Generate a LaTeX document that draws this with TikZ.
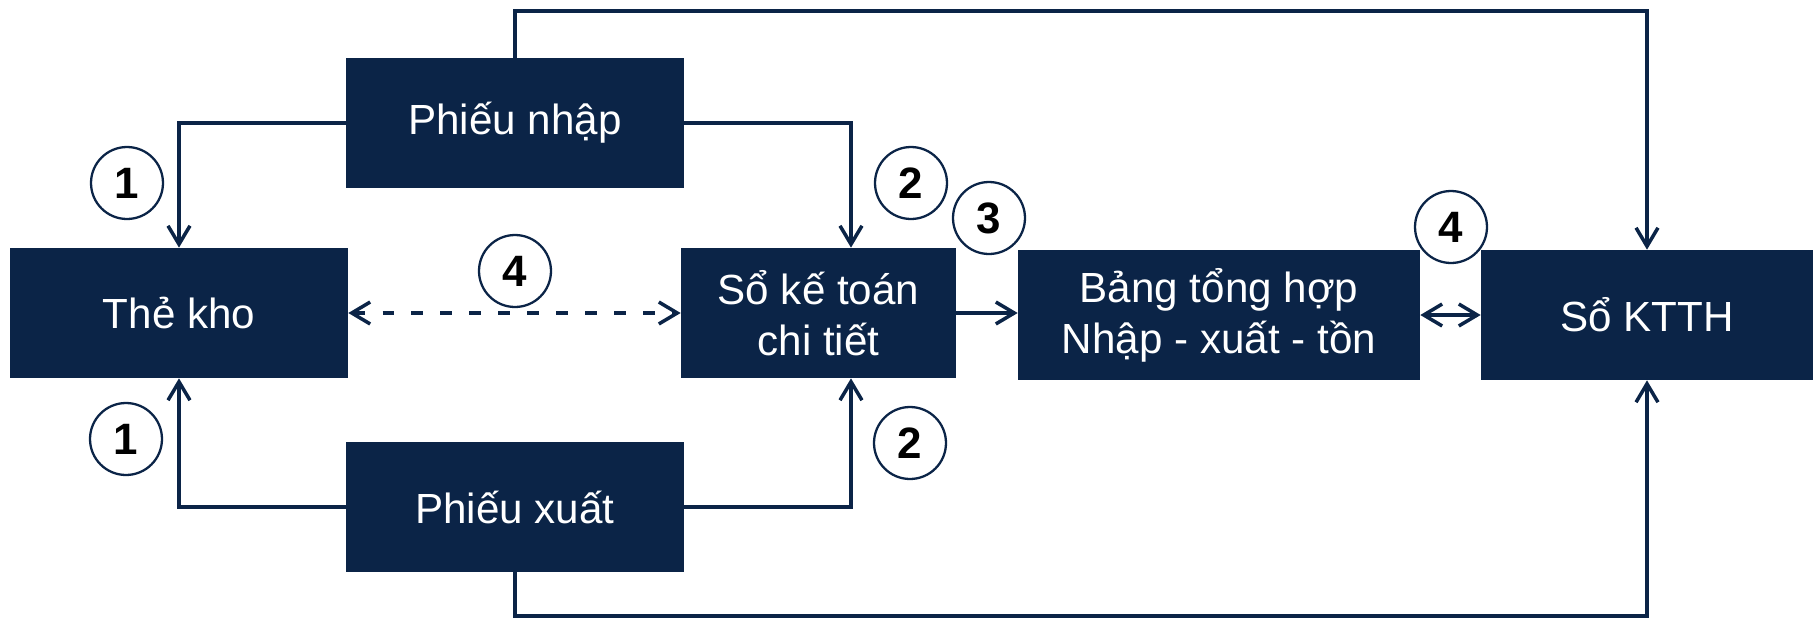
\documentclass[tikz,border=0pt]{standalone}
\usepackage{fontspec}
\setmainfont{Liberation Sans}
\usepackage{tikz}
\usetikzlibrary{arrows.meta, positioning}
\usepackage{xcolor}
\definecolor{navy}{HTML}{0B2447}

\begin{document}
\begin{tikzpicture}[
    x=0.02cm, y=-0.02cm,
    docBox/.style={rectangle, fill=navy, text=white, minimum height=2.6cm, align=center, font=\fontsize{24}{29}\selectfont, inner sep=0pt},
    numCirc/.style={circle, fill=white, draw=navy, line width=1.3pt, minimum size=1.44cm, inner sep=0pt, font=\fontsize{25}{28}\selectfont\bfseries},
    flowRel/.style={-{Straight Barb[length=10.5pt, width=12.5pt, line width=2pt]}, navy, line width=2.2pt},
    bothRel/.style={{Straight Barb[length=10.5pt, width=12.5pt, line width=2pt]}-{Straight Barb[length=10.5pt, width=12.5pt, line width=2pt]}, navy, line width=2.2pt},
    checkRel/.style={bothRel, line width=2.4pt, dash pattern=on 6.5pt off 10pt}
]
    \useasboundingbox (0,0) rectangle (1813,619);

    % Source documents and books
    \node[docBox, minimum width=6.76cm] (thekho) at (179,313)   {Thẻ kho};
    \node[docBox, minimum width=6.76cm] (pnhap)  at (515,123)   {Phiếu nhập};
    \node[docBox, minimum width=6.76cm] (pxuat)  at (515,507)   {Phiếu xuất};
    \node[docBox, minimum width=5.5cm]  (sktct)  at (818.5,313) {Sổ kế toán\\chi tiết};
    \node[docBox, minimum width=8.04cm] (bang)   at (1219,315)  {Bảng tổng hợp\\Nhập - xuất - tồn};
    \node[docBox, minimum width=6.64cm] (ktth)   at (1647,315)  {Sổ KTTH};

    % Outer routing points
    \coordinate (topline) at (1647,11);
    \coordinate (botline) at (1647,616);

    % Phieu nhap / Phieu xuat -> The kho and So chi tiet
    \draw[flowRel] (pnhap.west) -| (thekho.north);
    \draw[flowRel] (pnhap.east) -| ([xshift=0.65cm]sktct.north);
    \draw[flowRel] (pxuat.west) -| (thekho.south);
    \draw[flowRel] (pxuat.east) -| ([xshift=0.65cm]sktct.south);

    % Straight to So KTTH
    \draw[flowRel] (pnhap.north) |- (topline) -- (ktth.north);
    \draw[flowRel] (pxuat.south) |- (botline) -- (ktth.south);

    % Checks and totals
    \draw[checkRel] (thekho.east) -- (sktct.west);
    \draw[flowRel] (sktct.east) -- (sktct.east -| bang.west);
    \draw[bothRel] (bang.east) -- (ktth.west);

    % Step numbers
    \node[numCirc] (n1a) at (127,183)  {1};
    \node[numCirc] (n1b) at (126,439)  {1};
    \node[numCirc] (n2a) at (911,183)  {2};
    \node[numCirc] (n2b) at (910,443)  {2};
    \node[numCirc] (n3)  at (989,218)  {3};
    \node[numCirc] (n4a) at (515,271)  {4};
    \node[numCirc] (n4b) at (1451,227) {4};
\end{tikzpicture}
\end{document}
